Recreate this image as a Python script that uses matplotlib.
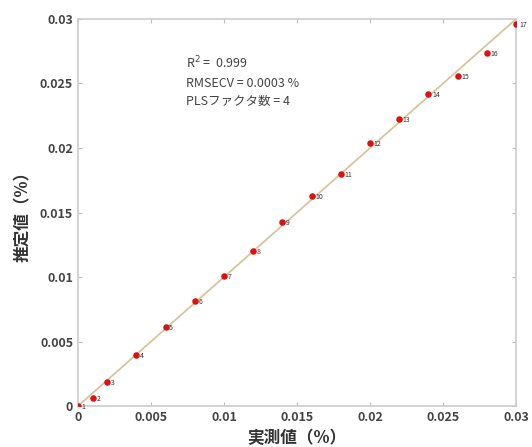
import numpy as np
import matplotlib
matplotlib.use("Agg")
import matplotlib.pyplot as plt

plt.rcParams['font.family'] = ['Noto Sans CJK JP', 'DejaVu Sans']

# measured vs predicted (%)
measured = [0.0, 0.001, 0.002, 0.004, 0.006, 0.008, 0.010, 0.012, 0.014,
            0.016, 0.018, 0.020, 0.022, 0.024, 0.026, 0.028, 0.030]
predicted = [0.0, 0.00062, 0.00186, 0.00395, 0.00612, 0.00814, 0.01008, 0.0120, 0.01426,
             0.01628, 0.01798, 0.0204, 0.02225, 0.0242, 0.02558, 0.02736, 0.0296]
sample_ids = [str(i) for i in range(1, 18)]

ticks = [0, 0.005, 0.01, 0.015, 0.02, 0.025, 0.03]
tick_labels = ['0', '0.005', '0.01', '0.015', '0.02', '0.025', '0.03']

fig = plt.figure(figsize=(5.32, 4.47), dpi=100)
ax = fig.add_axes([0.1466, 0.0917, 0.8234, 0.8658])

ax.plot([0, 0.03], [0, 0.03], color='#d8c49a', lw=1.3, zorder=1)
ax.scatter(measured, predicted, s=22, color='#e01010', zorder=3, linewidths=0)
for x, y, t in zip(measured, predicted, sample_ids):
    ax.text(x + 0.00025, y - 0.0001, t, fontsize=5, color='#333333', va='center', ha='left')

ax.set_xlim(0, 0.03)
ax.set_ylim(0, 0.03)
ax.set_xticks(ticks)
ax.set_xticklabels(tick_labels)
ax.set_yticks(ticks)
ax.set_yticklabels(tick_labels)
ax.tick_params(direction='in', length=3, color='#bbbbbb', labelsize=9,
               labelcolor='#444444', top=True, right=True)
for lbl in ax.get_xticklabels() + ax.get_yticklabels():
    lbl.set_fontweight('bold')
for sp in ax.spines.values():
    sp.set_color('#cccccc')
    sp.set_linewidth(1.2)

ax.set_xlabel('実測値（%）', fontsize=12, fontweight='bold', color='#333333', labelpad=4)
ax.set_ylabel('推定値（%）', fontsize=12, fontweight='bold', color='#333333', labelpad=6)

ax.text(0.0074, 0.0266, 'R$^2$ =  0.999', fontsize=9, color='#444444', va='center')
ax.text(0.0074, 0.0250, 'RMSECV = 0.0003 %', fontsize=9, color='#444444', va='center')
ax.text(0.0074, 0.0236, 'PLSファクタ数 = 4', fontsize=9, color='#444444', va='center')

fig.savefig('out.png', dpi=100)
